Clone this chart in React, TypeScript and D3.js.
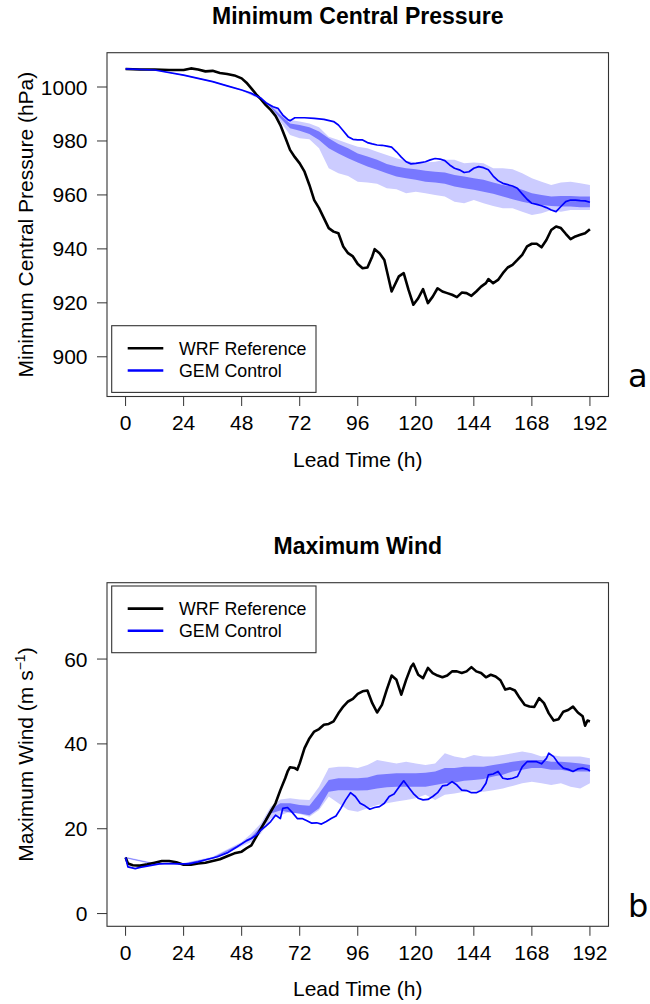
import React from "react";
import * as d3 from "d3";

type P = [number, number];
type B = [number, number, number];

const xTicks = [0, 24, 48, 72, 96, 120, 144, 168, 192];
const presTicks = [900, 920, 940, 960, 980, 1000];
const windTicks = [0, 20, 40, 60];
const legendLabels = ["WRF Reference", "GEM Control"];

const wrfPressure: P[] = [
  [0,1006.7],[6,1006.5],[12,1006.5],[18,1006.3],[24,1006.3],[27,1006.9],[30,1006.5],[33,1005.8],[36,1006.0],[39,1005.2],[42,1004.8],[45,1004.3],[48,1003.2],
  [50,1001.6],[52,999.5],[54,997.3],[56,995.4],[58,993.3],[60,991.5],[62,989.3],[64,985.9],[66,981.4],[68,976.7],[70,974.0],[72,971.7],
  [74,968.6],[76,963.7],[78,958.1],[80,955.1],[82,951.4],[84,947.7],[86,946.4],[88,945.8],[90,940.9],[92,938.4],[94,937.2],[96,934.4],[98,932.8],[100,933.1],[102,937.2],
  [103,939.9],[105,938.4],[107,935.9],[110,924.2],[113,929.8],[115,931.0],[117,924.8],[119,919.3],[121,921.7],[123,925.1],[125,919.9],[127,922.3],[129,925.4],[131,924.2],
  [133,923.6],[135,923.0],[137,922.1],[139,923.8],[141,923.6],[143,922.6],[145,924.2],[147,926.0],[149,927.3],[150,928.8],[152,927.3],[154,928.5],[156,931.0],[158,933.1],
  [160,934.1],[162,935.9],[164,937.8],[166,940.9],[168,941.9],[170,941.9],[172,940.6],[174,943.3],[176,947.0],[178,948.3],[180,947.7],[182,945.6],[184,943.6],[186,944.6],
  [188,945.2],[190,945.8],[192,947.3]
];

const gemPressure: P[] = [
  [0,1006.7],[12,1006.3],[24,1004.4],[30,1003.2],[36,1002.0],[42,1000.4],[48,998.9],[52,997.7],[56,995.8],[58,994.2],[61,992.7],[63,992.1],[65,989.6],[67,988.0],[68,987.5],
  [70,988.6],[74,988.6],[78,988.4],[82,988.0],[86,987.2],[88,985.9],[90,983.8],[92,981.6],[94,980.6],[96,980.4],[98,980.4],[100,979.4],[102,978.9],[104,978.5],[106,978.4],
  [108,978.1],[110,977.7],[112,976.0],[114,974.0],[116,972.3],[118,971.5],[120,971.7],[122,972.0],[124,972.3],[126,973.0],[128,973.5],[130,973.3],[132,972.7],[134,971.1],
  [136,969.9],[138,969.3],[140,968.3],[142,968.6],[144,969.9],[146,970.5],[148,970.1],[150,969.3],[152,967.0],[154,965.3],[156,964.3],[158,963.8],[160,963.3],[162,962.5],
  [164,960.4],[166,958.4],[168,956.9],[170,956.5],[172,956.0],[174,955.3],[176,954.4],[178,953.8],[180,955.7],[182,957.5],[184,958.1],[186,958.1],[188,957.9],[190,957.8],[192,957.3]
];

const presOuter: B[] = [
  [0,1006.6,1006.8],[12,1006.2,1006.4],[24,1004.2,1004.6],[36,1001.8,1002.2],[48,998.6,999.2],[56,995.3,996.2],[60,992.0,993.3],[64,987.2,990.9],[68,982.2,987.8],
  [72,981.0,987.2],[76,980.6,986.5],[80,977.3,985.1],[84,969.9,981.6],[88,968.0,980.4],[92,967.0,979.1],[96,964.9,977.9],[100,964.6,977.3],[104,964.1,976.0],
  [108,962.5,974.8],[112,962.1,973.6],[116,960.6,972.7],[120,961.2,972.0],[124,960.6,972.0],[128,960.0,972.3],[132,959.4,973.0],[136,957.5,973.0],[140,956.9,971.7],
  [144,958.1,972.0],[148,956.9,971.7],[152,955.9,969.9],[156,955.1,969.9],[160,955.1,969.5],[164,953.8,968.0],[168,952.6,966.2],[172,953.2,964.9],[176,954.4,963.7],
  [180,953.8,964.6],[184,954.4,964.9],[188,954.4,964.3],[192,954.4,963.7]
];

const presInner: B[] = [
  [0,1006.7,1006.7],[12,1006.3,1006.3],[24,1004.3,1004.5],[36,1001.9,1002.1],[48,998.8,999.0],[56,995.6,996.0],[60,992.5,993.0],[64,988.4,989.6],[68,984.7,986.5],
  [72,983.8,985.9],[76,982.6,985.1],[80,980.4,983.5],[84,977.3,981.0],[88,975.4,978.9],[92,973.6,977.3],[96,972.0,975.4],[100,970.5,974.2],[104,969.3,973.0],
  [108,968.0,971.5],[112,966.8,970.5],[116,966.2,969.9],[120,965.6,969.5],[124,964.9,969.0],[128,964.6,968.6],[132,964.1,968.3],[136,963.1,967.4],[140,962.5,966.8],
  [144,961.9,966.2],[148,961.2,965.6],[152,960.4,964.6],[156,959.4,963.7],[160,958.4,963.1],[164,957.5,961.9],[168,956.7,960.6],[172,956.3,960.0],[176,955.9,959.4],
  [180,955.7,959.6],[184,955.7,959.6],[188,955.4,959.4],[192,955.4,959.4]
];

const wrfWind: P[] = [
  [0,13.2],[1,11.8],[3,11.4],[6,11.3],[9,11.6],[12,12.0],[15,12.4],[18,12.4],[21,12.1],[24,11.5],[27,11.5],[30,11.8],[33,12.0],[36,12.4],[39,12.8],[42,13.5],[45,14.2],
  [48,14.6],[50,15.4],[52,16.1],[54,18.1],[56,20.1],[58,22.0],[60,24.0],[62,26.0],[64,29.1],[66,31.9],[67,33.5],[68,34.5],[70,34.3],[71,33.9],[72,35.4],[74,39.0],
  [76,41.3],[78,42.9],[80,43.5],[82,44.5],[84,44.7],[86,45.3],[88,47.2],[90,48.8],[92,50.0],[94,50.6],[96,51.8],[98,52.4],[100,52.6],[102,49.6],[104,47.4],[106,49.2],
  [108,52.8],[110,56.1],[112,55.1],[114,51.6],[116,55.1],[118,58.1],[119,58.9],[121,56.3],[123,55.5],[125,57.9],[127,56.7],[129,56.1],[131,55.7],[133,56.1],[135,57.1],
  [137,57.1],[139,56.7],[141,57.1],[143,58.1],[145,57.1],[147,56.7],[149,55.7],[151,56.3],[153,55.9],[155,55.0],[157,52.8],[159,53.1],[161,52.6],[163,50.8],[165,49.2],
  [167,48.8],[169,48.7],[171,50.8],[173,49.6],[175,47.2],[177,45.5],[179,45.8],[181,47.6],[183,48.0],[185,48.8],[187,47.4],[189,46.5],[190,44.3],[191,45.5],[192,45.3]
];

const gemWind: P[] = [
  [0,13.2],[1,11.0],[4,10.6],[6,10.9],[10,11.3],[14,11.7],[18,11.8],[22,11.7],[26,11.7],[30,12.2],[34,12.8],[38,13.4],[42,14.3],[46,15.7],[50,17.2],[52,17.7],[54,18.5],
  [56,19.7],[58,20.6],[60,21.7],[62,23.2],[64,22.4],[65,24.8],[67,25.0],[69,23.8],[71,22.4],[73,22.4],[75,21.9],[77,21.3],[79,21.4],[81,21.1],[83,21.7],[85,22.4],
  [87,23.0],[89,24.8],[91,26.8],[93,28.5],[95,27.6],[97,26.0],[99,25.4],[101,24.6],[103,25.0],[105,25.2],[107,26.0],[109,27.6],[111,28.2],[113,29.8],[115,31.3],
  [117,29.8],[119,28.3],[121,27.2],[123,26.8],[125,26.9],[127,27.6],[129,28.5],[131,30.1],[133,30.3],[135,31.1],[137,30.3],[139,29.1],[141,29.0],[143,28.5],[145,28.5],
  [147,29.0],[149,30.7],[150,32.7],[152,32.9],[154,33.5],[156,31.9],[158,31.7],[160,31.9],[162,32.3],[164,34.6],[166,35.8],[168,35.8],[170,35.8],[172,35.3],[174,36.6],
  [175,37.8],[177,37.0],[179,35.4],[181,34.3],[183,34.0],[185,33.5],[187,34.1],[189,34.3],[191,34.0],[192,33.6]
];

const windOuter: B[] = [
  [0,13.0,13.4],[12,11.5,11.9],[24,11.5,11.9],[36,12.8,13.4],[48,15.9,16.9],[52,16.9,18.9],[56,18.9,21.3],[60,22.4,25.2],[64,23.2,26.9],[68,24.0,27.2],[72,23.5,26.9],
  [76,22.8,26.8],[80,24.4,29.9],[84,27.6,34.3],[88,26.0,34.6],[92,24.4,34.6],[96,24.0,34.3],[100,24.8,35.0],[104,25.6,36.2],[108,26.0,35.8],[112,26.4,35.4],
  [116,26.8,35.8],[120,27.2,35.4],[124,28.0,35.0],[128,26.8,35.4],[132,28.0,37.8],[136,28.3,37.0],[140,28.7,36.6],[144,29.1,37.4],[148,28.7,37.0],[152,29.1,37.0],
  [156,29.5,37.4],[160,30.1,37.8],[164,30.7,38.2],[168,31.1,37.8],[172,30.7,37.0],[176,30.3,37.4],[180,30.7,37.0],[184,29.9,37.0],[188,29.5,37.0],[192,30.7,36.6]
];

const windInner: B[] = [
  [0,13.1,13.3],[12,11.6,11.8],[24,11.6,11.8],[36,13.0,13.2],[48,16.2,16.6],[52,17.5,18.1],[56,19.5,20.5],[60,23.6,24.6],[64,24.3,26.0],[68,23.8,26.0],[72,23.6,25.6],
  [76,23.2,25.4],[80,24.8,28.3],[84,28.7,31.5],[88,29.1,31.9],[92,29.1,31.9],[96,29.0,31.9],[100,29.1,32.1],[104,29.5,32.7],[108,29.8,32.9],[112,29.9,33.1],
  [116,29.9,33.1],[120,29.9,33.1],[124,29.9,33.2],[128,30.3,33.5],[132,30.7,34.3],[136,30.9,34.3],[140,31.3,34.6],[144,31.5,34.6],[148,31.7,34.6],[152,32.3,35.0],
  [156,32.7,35.4],[160,33.5,35.8],[164,33.9,36.1],[168,34.3,36.2],[172,34.3,36.2],[176,33.9,35.8],[180,33.9,35.8],[184,33.5,35.6],[188,33.5,35.4],[192,33.5,35.0]
];

const FONT = "'Liberation Sans', Arial, Helvetica, sans-serif";
const LEFT = 107, RIGHT = 608.5;
const OUTER_FILL = "#CCCCFF";
const INNER_FILL = "#7878FF";

type PanelProps = {
  top: number; bottom: number; yDomain: [number, number]; yTicks: number[];
  title: string; yLabel: React.ReactNode; letter: string; letterBaseline: number;
  legendTop: number; outer: B[]; inner: B[]; wrf: P[]; gem: P[];
};

function Panel(p: PanelProps) {
  const x = d3.scaleLinear().domain([-7.68, 199.68]).range([LEFT, RIGHT]);
  const y = d3.scaleLinear().domain(p.yDomain).range([p.bottom, p.top]);
  const area = d3.area<B>().x(d => x(d[0])).y0(d => y(d[1])).y1(d => y(d[2]));
  const line = d3.line<P>().x(d => x(d[0])).y(d => y(d[1]));
  const midY = (p.top + p.bottom) / 2;
  const cx = (LEFT + RIGHT) / 2;
  const lg = p.legendTop;
  return (
    <g fontFamily={FONT}>
      <text x={cx} y={p.top - 28.5} textAnchor="middle" fontWeight="bold" fontSize={23}>{p.title}</text>
      <path d={area(p.outer) || ""} fill={OUTER_FILL} />
      <path d={area(p.inner) || ""} fill={INNER_FILL} />
      <path d={line(p.wrf) || ""} fill="none" stroke="#000" strokeWidth={2.6} strokeLinejoin="round" />
      <path d={line(p.gem) || ""} fill="none" stroke="#0000FF" strokeWidth={1.7} strokeLinejoin="round" />
      <rect x={LEFT} y={p.top} width={RIGHT - LEFT} height={p.bottom - p.top} fill="none" stroke="#333" strokeWidth={1.1} />
      {xTicks.map(t => (
        <g key={"x" + t}>
          <line x1={x(t)} x2={x(t)} y1={p.bottom} y2={p.bottom + 9.5} stroke="#333" strokeWidth={1} />
          <text x={x(t)} y={p.bottom + 33.5} textAnchor="middle" fontSize={21}>{t}</text>
        </g>
      ))}
      {p.yTicks.map(t => (
        <g key={"y" + t}>
          <line x1={LEFT} x2={LEFT - 10} y1={y(t)} y2={y(t)} stroke="#333" strokeWidth={1} />
          <text x={87.5} y={y(t) + 7.5} textAnchor="end" fontSize={21}>{t}</text>
        </g>
      ))}
      <text x={cx} y={p.bottom + 70} textAnchor="middle" fontSize={21}>Lead Time (h)</text>
      <text transform={`translate(32.5, ${midY}) rotate(-90)`} textAnchor="middle" fontSize={21}>{p.yLabel}</text>
      <text x={628} y={p.letterBaseline} fontSize={32} fontFamily="'DejaVu Sans', sans-serif">{p.letter}</text>
      <rect x={111.7} y={lg} width={204.3} height={66.7} fill="#fff" stroke="#333" strokeWidth={1.1} />
      <line x1={127.7} x2={163.3} y1={lg + 22.6} y2={lg + 22.6} stroke="#000" strokeWidth={2.6} />
      <line x1={127.7} x2={163.3} y1={lg + 44.8} y2={lg + 44.8} stroke="#0000FF" strokeWidth={2.6} />
      <text x={179} y={lg + 29} fontSize={17.8}>{legendLabels[0]}</text>
      <text x={179} y={lg + 51.3} fontSize={17.8}>{legendLabels[1]}</text>
    </g>
  );
}

export default function App() {
  return (
    <svg width={650} height={1004} style={{ position: "absolute", left: 0, top: 0, background: "#fff" }}>
      <rect x={0} y={0} width={650} height={1004} fill="#fff" />
      <Panel
        top={52.7} bottom={396.5} yDomain={[885.28, 1012.72]} yTicks={presTicks}
        title="Minimum Central Pressure" yLabel="Minimum Central Pressure (hPa)"
        letter="a" letterBaseline={387} legendTop={325.7}
        outer={presOuter} inner={presInner} wrf={wrfPressure} gem={gemPressure}
      />
      <Panel
        top={582.7} bottom={926.3} yDomain={[-3, 78]} yTicks={windTicks}
        title="Maximum Wind"
        yLabel={<>Maximum Wind (m s<tspan dy={-8} fontSize={14}>−1</tspan><tspan dy={8}>)</tspan></>}
        letter="b" letterBaseline={916.7} legendTop={586}
        outer={windOuter} inner={windInner} wrf={wrfWind} gem={gemWind}
      />
    </svg>
  );
}
